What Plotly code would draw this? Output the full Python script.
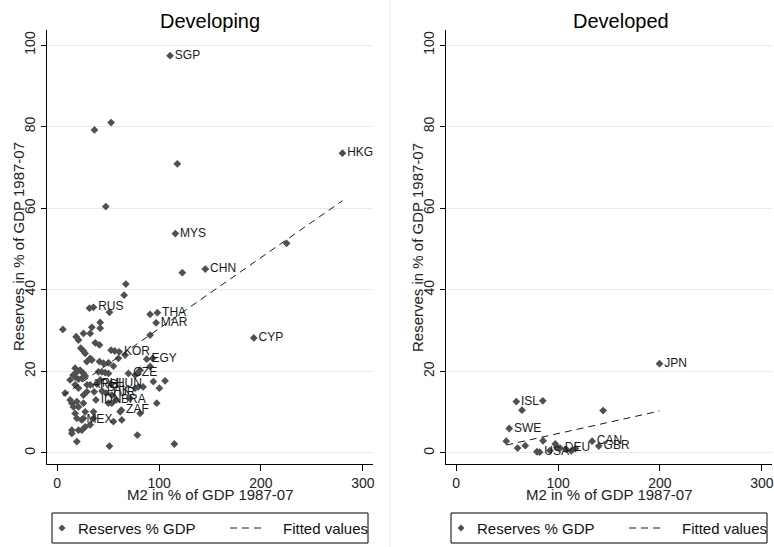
import numpy as np
import plotly.graph_objects as go

# ---- Developing economies: M2 and reserves, % of GDP, 1987-2007 averages ----
dev_m2 = [
    110.8, 280.0, 116.0, 145.4, 193.0, 35.6, 98.3, 97.1, 60.8, 87.9,
    69.9, 29.4, 39.0, 53.0, 44.0, 48.0, 38.0, 58.0, 63.0, 24.0,
    52.9, 36.6, 117.9, 47.7, 122.8, 225.2, 67.4, 65.7, 31.7, 51.3,
    91.2, 42.2, 5.6, 34.0, 42.2, 25.8, 32.4, 18.6, 20.9, 37.3,
    41.5, 23.2, 25.8, 27.5, 52.9, 56.5, 66.7, 60.1, 32.4, 34.0,
    29.1, 41.5, 45.4, 50.3, 55.2, 93.8, 81.4, 91.2, 40.5, 43.8,
    47.1, 50.3, 17.6, 22.5, 19.3, 17.6, 20.9, 24.2, 27.5, 25.8,
    76.5, 78.7, 94.4, 100.3, 105.9, 79.7, 76.5, 71.6, 97.7, 81.4,
    61.8, 55.2, 63.4, 78.7, 115.0, 51.3, 17.6, 20.9, 25.8, 29.1,
    12.7, 14.4, 16.0, 19.3, 20.9, 25.8, 27.5, 35.6, 17.6, 19.3,
    25.8, 35.6, 27.5, 32.4, 14.4, 14.4, 20.9, 24.2, 19.3, 50.3,
    53.6, 53.6, 12.7, 15.7, 42.2, 32.4, 36.3, 7.8, 84.3, 91.2,
]
dev_res = [
    97.4, 73.5, 53.8, 45.1, 28.2, 35.7, 34.4, 31.9, 24.8, 23.0,
    19.5, 16.7, 16.9, 16.9, 15.2, 14.7, 13.0, 13.0, 10.5, 8.1,
    81.0, 79.2, 70.9, 60.4, 44.2, 51.4, 41.4, 38.7, 35.5, 34.5,
    34.0, 32.0, 30.3, 30.8, 30.6, 29.3, 29.3, 28.5, 27.7, 27.0,
    26.5, 25.7, 25.0, 24.4, 25.2, 25.0, 24.0, 23.2, 23.2, 22.8,
    22.4, 22.4, 22.0, 22.1, 21.3, 23.2, 20.3, 21.2, 19.9, 19.9,
    19.7, 19.5, 20.8, 20.3, 19.9, 18.6, 18.1, 18.3, 18.9, 19.5,
    19.1, 19.5, 17.5, 15.9, 17.7, 16.2, 15.9, 13.4, 12.2, 9.7,
    10.1, 7.7, 8.1, 4.4, 2.2, 1.7, 16.7, 15.9, 14.2, 15.0,
    13.0, 12.2, 11.3, 12.6, 11.3, 12.2, 10.1, 10.1, 9.7, 8.5,
    8.5, 8.5, 6.4, 6.9, 5.6, 4.8, 5.6, 5.6, 2.8, 12.2,
    14.2, 12.2, 17.9, 19.1, 17.9, 16.7, 15.0, 14.7, 16.2, 28.9,
]
dev_code = [
    "SGP", "HKG", "MYS", "CHN", "CYP", "RUS", "THA", "MAR", "KOR", "EGY",
    "CZE", "ARG", "PHL", "HUN", "PAK", "TUR", "IDN", "BRA", "ZAF", "MEX",
] + [""] * (len(dev_m2) - 20)

# ---- Developed economies ----
adv_m2 = [
    199.6, 59.0, 52.1, 81.9, 102.0, 133.4, 140.0,
    85.0, 64.6, 144.2, 49.2, 60.3, 67.8, 85.3, 97.3, 98.9, 79.3, 117.0,
    92.0, 108.0, 113.0,
]
adv_res = [
    21.9, 12.6, 6.0, 0.2, 1.2, 2.9, 1.7,
    12.8, 10.5, 10.4, 2.9, 1.2, 1.8, 3.0, 2.2, 1.4, 0.3, 1.1,
    0.6, 0.9, 0.5,
]
adv_code = ["JPN", "ISL", "SWE", "USA", "DEU", "CAN", "GBR"] + [""] * 14

panel_titles = ["Developing", "Developed"]
x_title = "M2 in % of GDP 1987-07"
y_title = "Reserves in % of GDP 1987-07"
legend_labels = ["Reserves % GDP", "Fitted values"]
x_ticks = [0, 100, 200, 300]
y_ticks = [0, 20, 40, 60, 80, 100]

FONT = "Liberation Sans, Arial, sans-serif"
MARK = "#505050"
INK = "#1a1a1a"
W, H = 774, 547


def fitted(x, y):
    x = np.asarray(x, float)
    y = np.asarray(y, float)
    b, a = np.polyfit(x, y, 1)
    xs = np.array([x.min(), x.max()])
    return xs, a + b * xs


def px(x):
    return x / W


def py(y):
    return (H - y) / H


fig = go.Figure()

panels = [
    (dev_m2, dev_res, dev_code, "x", "y"),
    (adv_m2, adv_res, adv_code, "x2", "y2"),
]
for m2, res, code, xa, ya in panels:
    fig.add_trace(go.Scatter(
        x=m2, y=res, text=code, mode="markers+text",
        textposition="middle right",
        textfont=dict(family=FONT, size=12, color=INK),
        marker=dict(symbol="diamond", size=6, color=MARK, line=dict(width=0)),
        name=legend_labels[0], xaxis=xa, yaxis=ya, cliponaxis=False,
    ))
    fx, fy = fitted(m2, res)
    fig.add_trace(go.Scatter(
        x=fx, y=fy, mode="lines",
        line=dict(color=INK, width=1, dash="7px,5px"),
        name=legend_labels[1], xaxis=xa, yaxis=ya,
    ))

# plot areas in pixels: left 47-373, right 446-772, vertical 30-464
xdom = [[px(47), px(373)], [px(446), px(772)]]
ydom = [py(464), py(30)]
title_x = [px(210), px(621)]

tick_font = dict(family=FONT, size=14, color="#222222")
title_font = dict(family=FONT, size=15, color="#222222")
common_x = dict(
    range=[-10, 310], tickvals=x_ticks, ticks="outside", ticklen=6,
    tickcolor="#000000", showline=True, linecolor="#000000", linewidth=1,
    showgrid=False, zeroline=False, tickfont=tick_font, automargin=False,
)
common_y = dict(
    range=[-2.7, 103.7], tickvals=y_ticks, ticks="outside", ticklen=5,
    tickcolor="#000000", showline=True, linecolor="#000000", linewidth=1,
    showgrid=True, gridcolor="#eaeaea", gridwidth=1, zeroline=False,
    tickangle=-90, tickfont=tick_font, automargin=False,
)

fig.update_layout(
    width=W, height=H,
    margin=dict(l=0, r=0, t=0, b=0, autoexpand=False),
    paper_bgcolor="#ffffff", plot_bgcolor="#ffffff",
    font=dict(family=FONT),
    xaxis=dict(domain=xdom[0], anchor="y", **common_x),
    yaxis=dict(domain=ydom, anchor="x", **common_y),
    xaxis2=dict(domain=xdom[1], anchor="y2", **common_x),
    yaxis2=dict(domain=ydom, anchor="x2", **common_y),
    showlegend=False,
)

ann = []
shapes = []
for i, t in enumerate(panel_titles):
    x0, x1 = xdom[i]
    xc = (x0 + x1) / 2
    # panel title
    ann.append(dict(text=t, x=title_x[i], y=py(21),
                    font=dict(family=FONT, size=20, color="#000000")))
    # axis titles
    ann.append(dict(text=x_title, x=xc, y=py(494), font=title_font))
    ann.append(dict(text=y_title, x=x0 - px(29), y=(ydom[0] + ydom[1]) / 2,
                    textangle=-90, font=title_font))

    # legend box under each panel
    bl = x0 * W + 5          # box left edge in px
    br = bl + 316
    bt, bb = 513, 543
    ym = (bt + bb) / 2
    shapes.append(dict(type="rect", x0=px(bl), x1=px(br), y0=py(bb), y1=py(bt),
                       line=dict(color="#000000", width=1), fillcolor="#ffffff"))
    d = 3.5
    mx = bl + 10
    shapes.append(dict(
        type="path", fillcolor=MARK, line=dict(width=0),
        path=f"M {px(mx)},{py(ym - d)} L {px(mx + d)},{py(ym)} "
             f"L {px(mx)},{py(ym + d)} L {px(mx - d)},{py(ym)} Z"))
    ann.append(dict(text=legend_labels[0], x=px(bl + 24), y=py(ym), xanchor="left",
                    font=dict(family=FONT, size=15, color="#111111")))
    shapes.append(dict(type="line", x0=px(bl + 178), x1=px(bl + 213), y0=py(ym), y1=py(ym),
                       line=dict(color=INK, width=1, dash="7px,5px")))
    ann.append(dict(text=legend_labels[1], x=px(bl + 229), y=py(ym), xanchor="left",
                    font=dict(family=FONT, size=15, color="#111111")))

for a in ann:
    a.setdefault("xanchor", "center")
    a.setdefault("yanchor", "middle")
    fig.add_annotation(xref="paper", yref="paper", showarrow=False, **a)

# thin divider between the two panels
shapes.append(dict(type="line", x0=px(390), x1=px(390), y0=0, y1=1,
                   line=dict(color="#eeeeee", width=1)))
for s in shapes:
    fig.add_shape(xref="paper", yref="paper", **s)

fig.write_html("out.html")
